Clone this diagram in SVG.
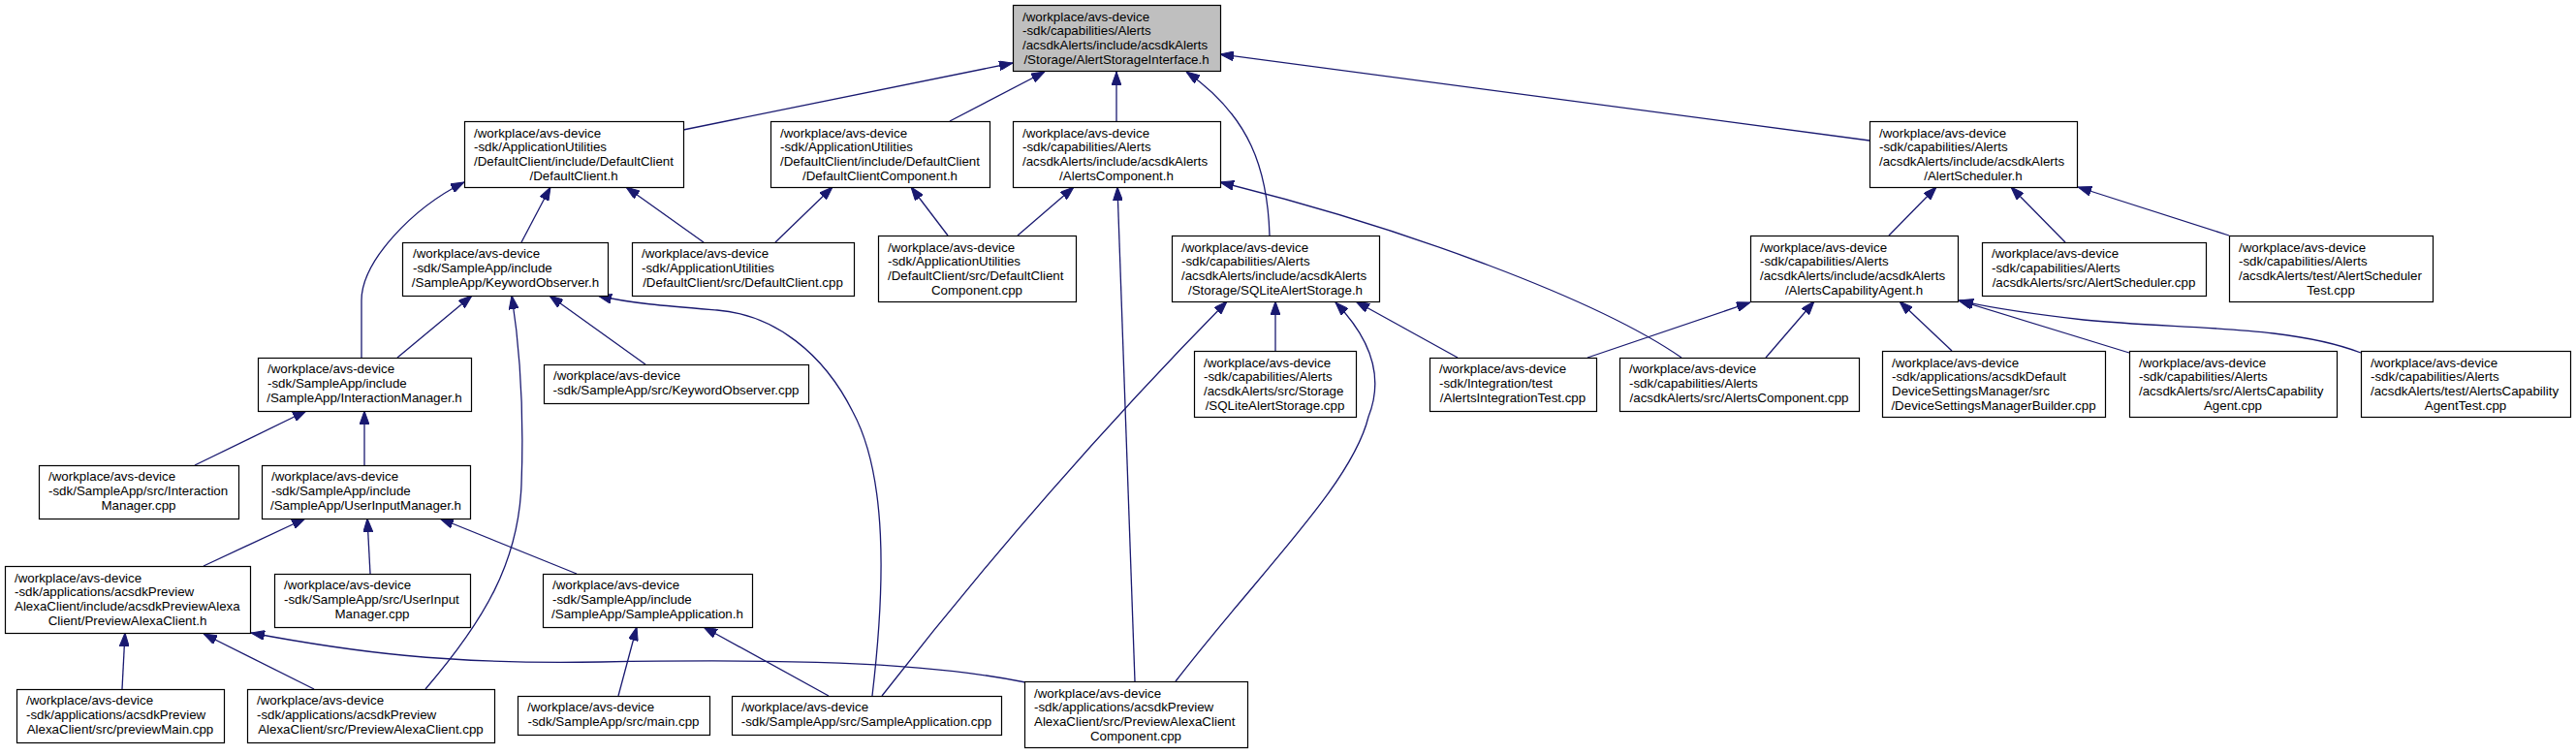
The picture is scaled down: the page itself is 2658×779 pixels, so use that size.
<svg xmlns="http://www.w3.org/2000/svg" width="2658" height="779" viewBox="0 0 2658 779">
<style>
.box{fill:#ffffff;stroke:#000000;stroke-width:1.2}
.root{fill:#bfbfbf}
text{font-family:"Liberation Sans",Arial,Helvetica,sans-serif;font-size:13.33px;fill:#000000}
.c{text-anchor:middle}
.e{fill:none;stroke:#191970;stroke-width:1.3;marker-end:url(#a)}
</style>
<defs>
<marker id="a" viewBox="0 0 14 10" refX="14" refY="5" markerWidth="14" markerHeight="10" markerUnits="userSpaceOnUse" orient="auto">
<path d="M0,0 L14,5 L0,10 z" fill="#191970" stroke="#191970" stroke-width="1"/>
</marker>
</defs>
<rect x="0" y="0" width="2658" height="779" fill="#ffffff"/>
<g id="edges">
<path class="e" d="M705,134 L1045,65"/>
<path class="e" d="M980,125 L1078,74"/>
<path class="e" d="M1152,125 L1152,74"/>
<path class="e" d="M1310,243 C1308,175 1290,120 1224,74"/>
<path class="e" d="M1929,145 L1259,56"/>
<path class="e" d="M538,250 L568,193"/>
<path class="e" d="M726,250 L646,193"/>
<path class="e" d="M373,369 L373,310 C373,270 425,215 479,188"/>
<path class="e" d="M800,250 L859,193"/>
<path class="e" d="M978,243 L940,193"/>
<path class="e" d="M1050,243 L1108,193"/>
<path class="e" d="M1171,703 L1153,193"/>
<path class="e" d="M1735,369 C1650,310 1450,235 1259,188"/>
<path class="e" d="M1949,243 L1998,193"/>
<path class="e" d="M2131,250 L2075,193"/>
<path class="e" d="M2300,243 L2144,193"/>
<path class="e" d="M410,369 L487,305"/>
<path class="e" d="M666,376 L567,305"/>
<path class="e" d="M900,718 C914,600 915,490 880,425 C850,365 800,325 740,320 C690,316 650,313 617,305"/>
<path class="e" d="M439,711 C500,640 535,580 538,500 C541,420 535,350 528,305"/>
<path class="e" d="M910,718 Q1080,500 1266,311"/>
<path class="e" d="M1316,362 L1316,311"/>
<path class="e" d="M1213,703 C1300,590 1395,500 1412,430 C1430,385 1410,345 1378,312"/>
<path class="e" d="M1504,369 L1399,311"/>
<path class="e" d="M1638,369 L1806,312"/>
<path class="e" d="M1822,369 L1872,311"/>
<path class="e" d="M2014,362 L1960,311"/>
<path class="e" d="M2197,364 L2021,310"/>
<path class="e" d="M2436,364 C2360,335 2250,340 2150,330 C2090,323 2050,317 2022,310"/>
<path class="e" d="M201,480 L316,424"/>
<path class="e" d="M376,480 L376,424"/>
<path class="e" d="M210,584 L315,535"/>
<path class="e" d="M382,592 L379,535"/>
<path class="e" d="M595,592 L454,535"/>
<path class="e" d="M126,711 L129,653"/>
<path class="e" d="M324,711 L210,654"/>
<path class="e" d="M1058,704 C950,682 800,680 620,683 C460,686 360,672 259,653"/>
<path class="e" d="M638,718 L657,647"/>
<path class="e" d="M855,718 L726,647"/>
</g>
<g id="n_root"><rect class="box root" x="1045.5" y="5.5" width="214" height="68"/>
<text><tspan x="1055" y="21.5">/workplace/avs-device</tspan><tspan x="1055" y="36.2">-sdk/capabilities/Alerts</tspan><tspan x="1055" y="50.8">/acsdkAlerts/include/acsdkAlerts</tspan></text>
<text class="c" x="1152" y="65.5">/Storage/AlertStorageInterface.h</text></g>
<g id="n_dch"><rect class="box" x="479.5" y="125.5" width="226" height="68"/>
<text><tspan x="489" y="141.5">/workplace/avs-device</tspan><tspan x="489" y="156.2">-sdk/ApplicationUtilities</tspan><tspan x="489" y="170.8">/DefaultClient/include/DefaultClient</tspan></text>
<text class="c" x="592" y="185.5">/DefaultClient.h</text></g>
<g id="n_dcch"><rect class="box" x="795.5" y="125.5" width="226" height="68"/>
<text><tspan x="805" y="141.5">/workplace/avs-device</tspan><tspan x="805" y="156.2">-sdk/ApplicationUtilities</tspan><tspan x="805" y="170.8">/DefaultClient/include/DefaultClient</tspan></text>
<text class="c" x="908" y="185.5">/DefaultClientComponent.h</text></g>
<g id="n_ach"><rect class="box" x="1045.5" y="125.5" width="214" height="68"/>
<text><tspan x="1055" y="141.5">/workplace/avs-device</tspan><tspan x="1055" y="156.2">-sdk/capabilities/Alerts</tspan><tspan x="1055" y="170.8">/acsdkAlerts/include/acsdkAlerts</tspan></text>
<text class="c" x="1152" y="185.5">/AlertsComponent.h</text></g>
<g id="n_ash"><rect class="box" x="1929.5" y="125.5" width="214" height="68"/>
<text><tspan x="1939" y="141.5">/workplace/avs-device</tspan><tspan x="1939" y="156.2">-sdk/capabilities/Alerts</tspan><tspan x="1939" y="170.8">/acsdkAlerts/include/acsdkAlerts</tspan></text>
<text class="c" x="2036" y="185.5">/AlertScheduler.h</text></g>
<g id="n_koh"><rect class="box" x="415.5" y="250.5" width="212" height="55"/>
<text><tspan x="426" y="266.3">/workplace/avs-device</tspan><tspan x="426" y="281">-sdk/SampleApp/include</tspan></text>
<text class="c" x="521.5" y="295.6">/SampleApp/KeywordObserver.h</text></g>
<g id="n_dccpp"><rect class="box" x="652.5" y="250.5" width="229" height="55"/>
<text><tspan x="662" y="266.3">/workplace/avs-device</tspan><tspan x="662" y="281">-sdk/ApplicationUtilities</tspan></text>
<text class="c" x="766.5" y="295.6">/DefaultClient/src/DefaultClient.cpp</text></g>
<g id="n_dcccpp"><rect class="box" x="906.5" y="243.5" width="204" height="68"/>
<text><tspan x="916" y="259.5">/workplace/avs-device</tspan><tspan x="916" y="274.2">-sdk/ApplicationUtilities</tspan><tspan x="916" y="288.8">/DefaultClient/src/DefaultClient</tspan></text>
<text class="c" x="1008" y="303.5">Component.cpp</text></g>
<g id="n_sqlh"><rect class="box" x="1209.5" y="243.5" width="214" height="68"/>
<text><tspan x="1219" y="259.5">/workplace/avs-device</tspan><tspan x="1219" y="274.2">-sdk/capabilities/Alerts</tspan><tspan x="1219" y="288.8">/acsdkAlerts/include/acsdkAlerts</tspan></text>
<text class="c" x="1316" y="303.5">/Storage/SQLiteAlertStorage.h</text></g>
<g id="n_acah"><rect class="box" x="1806.5" y="243.5" width="214" height="68"/>
<text><tspan x="1816" y="259.5">/workplace/avs-device</tspan><tspan x="1816" y="274.2">-sdk/capabilities/Alerts</tspan><tspan x="1816" y="288.8">/acsdkAlerts/include/acsdkAlerts</tspan></text>
<text class="c" x="1913" y="303.5">/AlertsCapabilityAgent.h</text></g>
<g id="n_ascpp"><rect class="box" x="2045.5" y="250.5" width="231" height="55"/>
<text><tspan x="2055" y="266.3">/workplace/avs-device</tspan><tspan x="2055" y="281">-sdk/capabilities/Alerts</tspan></text>
<text class="c" x="2160.5" y="295.6">/acsdkAlerts/src/AlertScheduler.cpp</text></g>
<g id="n_astest"><rect class="box" x="2300.5" y="243.5" width="210" height="68"/>
<text><tspan x="2310" y="259.5">/workplace/avs-device</tspan><tspan x="2310" y="274.2">-sdk/capabilities/Alerts</tspan><tspan x="2310" y="288.8">/acsdkAlerts/test/AlertScheduler</tspan></text>
<text class="c" x="2405" y="303.5">Test.cpp</text></g>
<g id="n_imh"><rect class="box" x="266.5" y="369.5" width="220" height="55"/>
<text><tspan x="276" y="385.3">/workplace/avs-device</tspan><tspan x="276" y="400">-sdk/SampleApp/include</tspan></text>
<text class="c" x="376" y="414.6">/SampleApp/InteractionManager.h</text></g>
<g id="n_kocpp"><rect class="box" x="561.5" y="376.5" width="273" height="40"/>
<text><tspan x="571" y="392.3">/workplace/avs-device</tspan></text>
<text class="c" x="697.5" y="407">-sdk/SampleApp/src/KeywordObserver.cpp</text></g>
<g id="n_sqlcpp"><rect class="box" x="1232.5" y="362.5" width="167" height="68"/>
<text><tspan x="1242" y="378.5">/workplace/avs-device</tspan><tspan x="1242" y="393.2">-sdk/capabilities/Alerts</tspan><tspan x="1242" y="407.8">/acsdkAlerts/src/Storage</tspan></text>
<text class="c" x="1315.5" y="422.5">/SQLiteAlertStorage.cpp</text></g>
<g id="n_ait"><rect class="box" x="1475.5" y="369.5" width="172" height="55"/>
<text><tspan x="1485" y="385.3">/workplace/avs-device</tspan><tspan x="1485" y="400">-sdk/Integration/test</tspan></text>
<text class="c" x="1561" y="414.6">/AlertsIntegrationTest.cpp</text></g>
<g id="n_accpp"><rect class="box" x="1671.5" y="369.5" width="247" height="55"/>
<text><tspan x="1681" y="385.3">/workplace/avs-device</tspan><tspan x="1681" y="400">-sdk/capabilities/Alerts</tspan></text>
<text class="c" x="1794.5" y="414.6">/acsdkAlerts/src/AlertsComponent.cpp</text></g>
<g id="n_dsmb"><rect class="box" x="1942.5" y="362.5" width="230" height="68"/>
<text><tspan x="1952" y="378.5">/workplace/avs-device</tspan><tspan x="1952" y="393.2">-sdk/applications/acsdkDefault</tspan><tspan x="1952" y="407.8">DeviceSettingsManager/src</tspan></text>
<text class="c" x="2057" y="422.5">/DeviceSettingsManagerBuilder.cpp</text></g>
<g id="n_acacpp"><rect class="box" x="2197.5" y="362.5" width="214" height="68"/>
<text><tspan x="2207" y="378.5">/workplace/avs-device</tspan><tspan x="2207" y="393.2">-sdk/capabilities/Alerts</tspan><tspan x="2207" y="407.8">/acsdkAlerts/src/AlertsCapability</tspan></text>
<text class="c" x="2304" y="422.5">Agent.cpp</text></g>
<g id="n_acatest"><rect class="box" x="2436.5" y="362.5" width="216" height="68"/>
<text><tspan x="2446" y="378.5">/workplace/avs-device</tspan><tspan x="2446" y="393.2">-sdk/capabilities/Alerts</tspan><tspan x="2446" y="407.8">/acsdkAlerts/test/AlertsCapability</tspan></text>
<text class="c" x="2544" y="422.5">AgentTest.cpp</text></g>
<g id="n_imcpp"><rect class="box" x="40.5" y="480.5" width="206" height="55"/>
<text><tspan x="50" y="496.3">/workplace/avs-device</tspan><tspan x="50" y="511">-sdk/SampleApp/src/Interaction</tspan></text>
<text class="c" x="143" y="525.6">Manager.cpp</text></g>
<g id="n_uimh"><rect class="box" x="270.5" y="480.5" width="215" height="55"/>
<text><tspan x="280" y="496.3">/workplace/avs-device</tspan><tspan x="280" y="511">-sdk/SampleApp/include</tspan></text>
<text class="c" x="377.5" y="525.6">/SampleApp/UserInputManager.h</text></g>
<g id="n_pach"><rect class="box" x="5.5" y="584.5" width="253" height="69"/>
<text><tspan x="15" y="600.5">/workplace/avs-device</tspan><tspan x="15" y="615.2">-sdk/applications/acsdkPreview</tspan><tspan x="15" y="629.8">AlexaClient/include/acsdkPreviewAlexa</tspan></text>
<text class="c" x="131.5" y="644.5">Client/PreviewAlexaClient.h</text></g>
<g id="n_uimcpp"><rect class="box" x="283.5" y="592.5" width="202" height="55"/>
<text><tspan x="293" y="608.3">/workplace/avs-device</tspan><tspan x="293" y="623">-sdk/SampleApp/src/UserInput</tspan></text>
<text class="c" x="384" y="637.6">Manager.cpp</text></g>
<g id="n_sah"><rect class="box" x="560.5" y="592.5" width="216" height="55"/>
<text><tspan x="570" y="608.3">/workplace/avs-device</tspan><tspan x="570" y="623">-sdk/SampleApp/include</tspan></text>
<text class="c" x="668" y="637.6">/SampleApp/SampleApplication.h</text></g>
<g id="n_pmcpp"><rect class="box" x="17.5" y="711.5" width="214" height="55"/>
<text><tspan x="27" y="727.3">/workplace/avs-device</tspan><tspan x="27" y="742">-sdk/applications/acsdkPreview</tspan></text>
<text class="c" x="124" y="756.6">AlexaClient/src/previewMain.cpp</text></g>
<g id="n_paccpp"><rect class="box" x="255.5" y="711.5" width="255" height="55"/>
<text><tspan x="265" y="727.3">/workplace/avs-device</tspan><tspan x="265" y="742">-sdk/applications/acsdkPreview</tspan></text>
<text class="c" x="382.5" y="756.6">AlexaClient/src/PreviewAlexaClient.cpp</text></g>
<g id="n_maincpp"><rect class="box" x="534.5" y="718.5" width="198" height="40"/>
<text><tspan x="544" y="734.3">/workplace/avs-device</tspan></text>
<text class="c" x="633" y="749">-sdk/SampleApp/src/main.cpp</text></g>
<g id="n_sacpp"><rect class="box" x="755.5" y="718.5" width="278" height="40"/>
<text><tspan x="765" y="734.3">/workplace/avs-device</tspan></text>
<text class="c" x="894" y="749">-sdk/SampleApp/src/SampleApplication.cpp</text></g>
<g id="n_pacccpp"><rect class="box" x="1057.5" y="703.5" width="230" height="68"/>
<text><tspan x="1067" y="719.5">/workplace/avs-device</tspan><tspan x="1067" y="734.2">-sdk/applications/acsdkPreview</tspan><tspan x="1067" y="748.8">AlexaClient/src/PreviewAlexaClient</tspan></text>
<text class="c" x="1172" y="763.5">Component.cpp</text></g>
</svg>
